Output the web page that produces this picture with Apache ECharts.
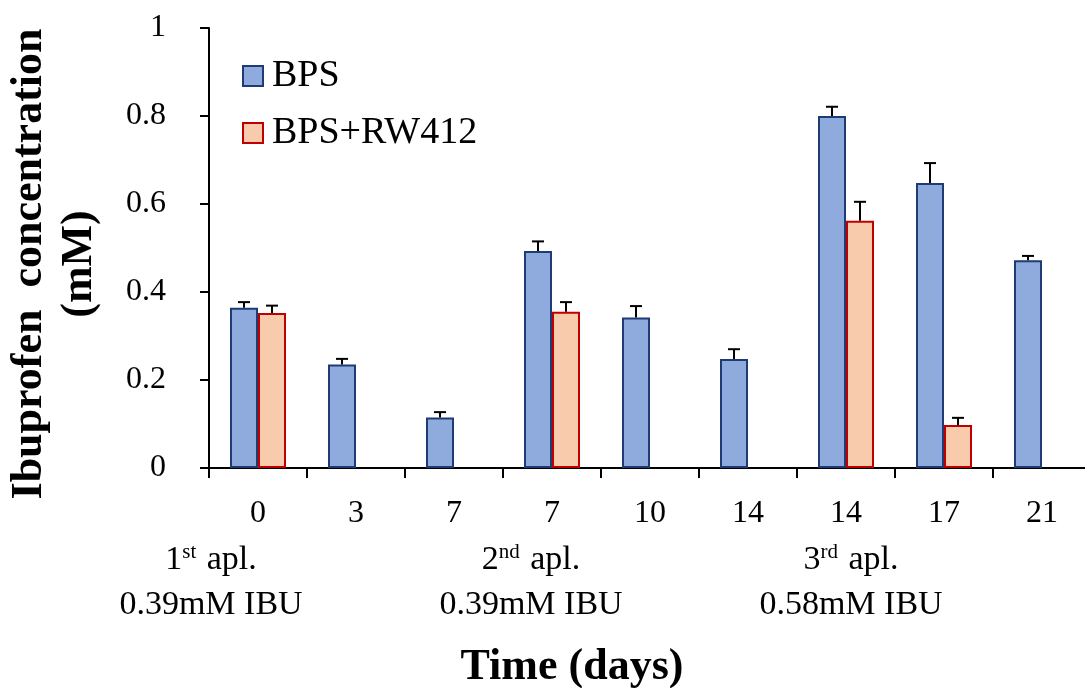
<!DOCTYPE html>
<html>
<head>
<meta charset="utf-8">
<script src="https://cdn.jsdelivr.net/npm/echarts@6/dist/echarts.min.js"></script>
<style>
html,body{margin:0;padding:0;background:#fff;}
#chart{width:1085px;height:688px;}
</style>
</head>
<body>
<div id="chart"></div>
<script>
// ---- data ----
var categories = ['0', '3', '7', '7', '10', '14', '14', '17', '21'];
var bpsValues  = [0.364, 0.235, 0.115, 0.493, 0.342, 0.248, 0.800, 0.648, 0.472];
var bpsErrors  = [0.013, 0.013, 0.012, 0.022, 0.026, 0.022, 0.021, 0.045, 0.010];
var rwValues   = [0.352, null, null, 0.355, null, null, 0.562, 0.098, null];
var rwErrors   = [0.017, null, null, 0.022, null, null, 0.043, 0.016, null];
var yTicks     = [0, 0.2, 0.4, 0.6, 0.8, 1];
var groupLines1 = [['1', 'st'], ['2', 'nd'], ['3', 'rd']];
var groupLines2 = ['0.39mM IBU', '0.39mM IBU', '0.58mM IBU'];

var FONT = '"Liberation Serif", "Times New Roman", serif';
var BAR_W = 28;
var chart = echarts.init(document.getElementById('chart'));

function errData(vals, errs) {
  var out = [];
  for (var i = 0; i < vals.length; i++) {
    if (vals[i] != null && errs[i] != null) out.push([i, vals[i], errs[i]]);
  }
  return out;
}
function errRenderer(offset) {
  return function (params, api) {
    var i = api.value(0), v = api.value(1), e = api.value(2);
    var p0 = api.coord([i, v]);
    var p1 = api.coord([i, v + e]);
    var x = p0[0] + offset;
    var st = { stroke: '#000', lineWidth: 2 };
    return {
      type: 'group',
      children: [
        { type: 'line', shape: { x1: x, y1: p0[1], x2: x, y2: p1[1] }, style: st },
        { type: 'line', shape: { x1: x - 6, y1: p1[1], x2: x + 6, y2: p1[1] }, style: st }
      ]
    };
  };
}

var option = {
  backgroundColor: '#fff',
  animation: false,
  textStyle: { fontFamily: FONT, color: '#000' },
  grid: { left: 209, top: 28, width: 882, height: 440, containLabel: false, outerBoundsMode: 'none' },
  legend: {
    orient: 'vertical',
    left: 237, top: 52,
    icon: 'rect',
    itemWidth: 20, itemHeight: 20,
    itemGap: 19,
    textStyle: { fontFamily: FONT, fontSize: 38, color: '#000', padding: [0, 0, 0, 4] },
    data: ['BPS', 'BPS+RW412']
  },
  xAxis: {
    type: 'category',
    data: categories,
    boundaryGap: true,
    axisLine: { lineStyle: { color: '#000', width: 2 } },
    axisTick: { show: true, length: 10, lineStyle: { color: '#000', width: 2 } },
    axisLabel: { fontFamily: FONT, fontSize: 32, color: '#000', margin: 30, interval: 0 },
    name: 'Time (days)',
    nameLocation: 'middle',
    nameGap: 178,
    nameTextStyle: { fontFamily: FONT, fontSize: 44, fontWeight: 'bold', color: '#000', padding: [0, 156, 0, 0] }
  },
  yAxis: {
    type: 'value',
    min: 0, max: 1, interval: 0.2,
    splitLine: { show: false },
    axisLine: { show: true, lineStyle: { color: '#000', width: 2 } },
    axisTick: { show: true, length: 9, lineStyle: { color: '#000', width: 2 } },
    axisLabel: {
      fontFamily: FONT, fontSize: 32, color: '#000', margin: 43,
      formatter: function (v) {
        for (var k = 0; k < yTicks.length; k++) if (Math.abs(yTicks[k] - v) < 1e-9) return String(yTicks[k]);
        return '';
      }
    },
    name: 'Ibuprofen  concentration\n(mM)',
    nameLocation: 'middle',
    nameRotate: 90,
    nameGap: 104,
    nameTextStyle: { fontFamily: FONT, fontSize: 44, fontWeight: 'bold', color: '#000', lineHeight: 50, padding: [0, 32, 0, 0] }
  },
  series: [
    {
      name: 'BPS', type: 'bar', data: bpsValues,
      barWidth: BAR_W, barGap: '0%',
      itemStyle: { color: '#8FAADC', borderColor: '#1F3B73', borderWidth: 2 },
      z: 2
    },
    {
      name: 'BPS+RW412', type: 'bar', data: rwValues,
      barWidth: BAR_W, barGap: '0%',
      itemStyle: { color: '#F8CBAD', borderColor: '#C00000', borderWidth: 2 },
      z: 2
    },
    {
      name: 'errBPS', type: 'custom', data: errData(bpsValues, bpsErrors),
      encode: { x: 0, y: 1 }, renderItem: errRenderer(-BAR_W / 2), z: 5, silent: true
    },
    {
      name: 'errRW', type: 'custom', data: errData(rwValues, rwErrors),
      encode: { x: 0, y: 1 }, renderItem: errRenderer(BAR_W / 2), z: 5, silent: true
    }
  ]
};
chart.setOption(option);

// group annotations under the x axis
var groupX = [211, 531, 851];
var gEls = [];
for (var g = 0; g < groupX.length; g++) {
  gEls.push({
    type: 'text', x: groupX[g], y: 560,
    style: {
      text: '{n|' + groupLines1[g][0] + '}{s|' + groupLines1[g][1] + '}{n| apl.}',
      align: 'center', verticalAlign: 'middle',
      rich: {
        n: { fontFamily: FONT, fontSize: 34, fill: '#000', lineHeight: 36 },
        s: { fontFamily: FONT, fontSize: 21, fill: '#000', lineHeight: 36, verticalAlign: 'top', padding: [0, 2, 12, 0] }
      }
    }
  });
  gEls.push({
    type: 'text', x: groupX[g], y: 605,
    style: {
      text: groupLines2[g], align: 'center', verticalAlign: 'middle',
      font: '34px ' + FONT, fill: '#000'
    }
  });
}
chart.setOption({ graphic: gEls });
</script>
</body>
</html>
